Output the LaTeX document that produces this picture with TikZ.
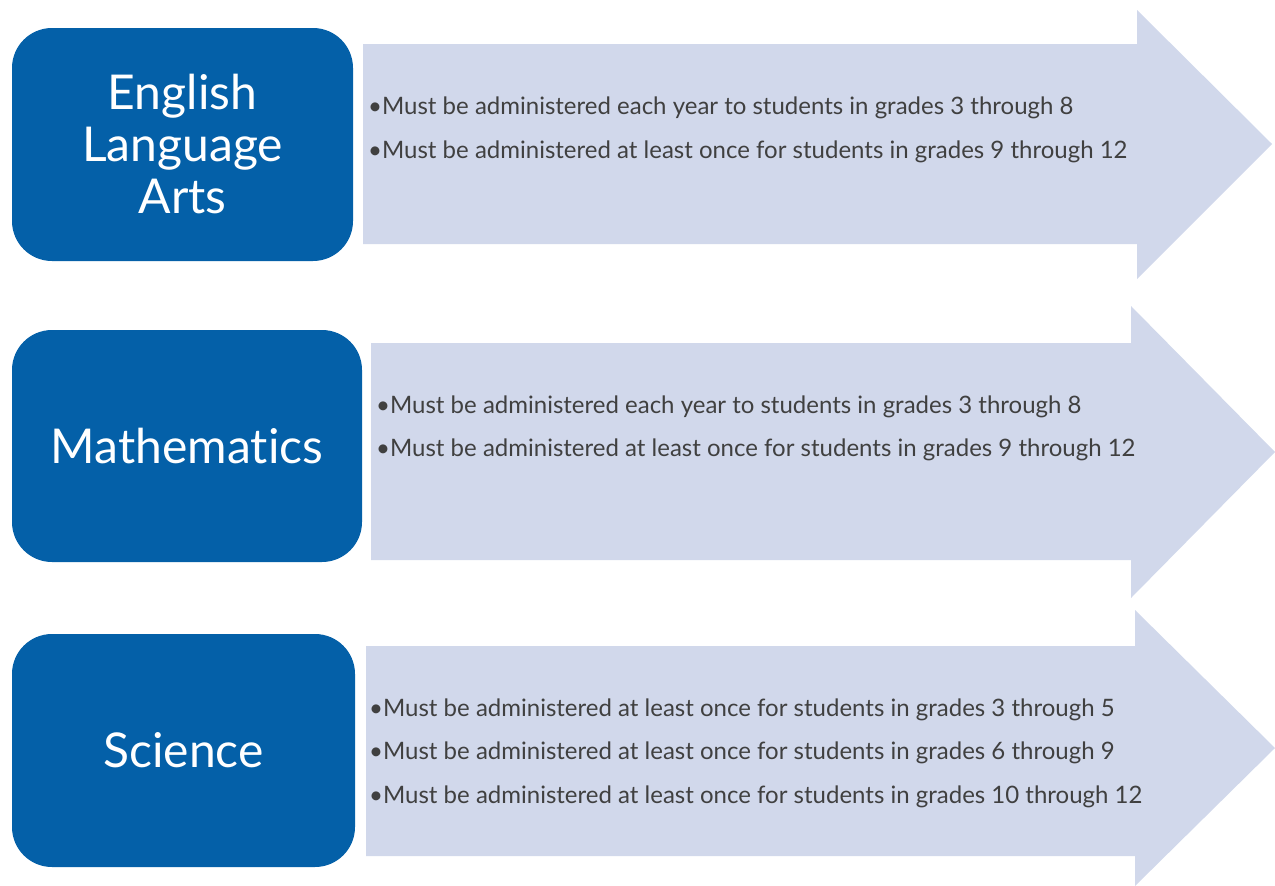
\documentclass[tikz,border=0pt]{standalone}
\usepackage{fontspec}
\setmainfont{Lato}[Ligatures=NoCommon]
\definecolor{boxblue}{RGB}{4,96,168}
\definecolor{arrowfill}{RGB}{209,216,235}
\definecolor{textgray}{RGB}{64,64,64}
\begin{document}
\begin{tikzpicture}[x=1pt, y=-1pt, line join=round,
 subject/.style={fill=boxblue, text=white, rounded corners=40pt, inner sep=0pt, align=center, font=\fontsize{48}{52}\selectfont},
 item/.style={anchor=base west, inner sep=0pt, text=textgray, font=\fontsize{24}{28}\selectfont}]
\useasboundingbox (0,0) rectangle (1275,886); %khung hình
% Vẽ 3 mũi tên nền
\fill[arrowfill] (363,44)--(1137,44)--(1137,10)--(1272,144)--(1137,279)--(1137,244)--(363,244)--cycle;
\fill[arrowfill] (371,343)--(1131,343)--(1131,306)--(1275,452)--(1131,598)--(1131,560)--(371,560)--cycle;
\fill[arrowfill] (366,646)--(1135,646)--(1135,610)--(1275,748)--(1135,886)--(1135,856)--(366,856)--cycle;
% Vẽ 3 khối môn học
\node[subject, minimum width=341pt, minimum height=233pt] (ela) at (182.5,144.5) {English\\Language\\Arts};
\node[subject, minimum width=350pt, minimum height=232pt] (math) at (187,446) {Mathematics};
\node[subject, minimum width=343pt, minimum height=233pt] (sci) at (183.5,750.5) {Science};
% Điền các dòng yêu cầu
\foreach \y/\t [count=\i] in {114/{each year to students in grades 3 through 8},
 158/{at least once for students in grades 9 through 12}}
\node[item] (ela\i) at (368,\y) {\textbullet Must be administered \t};
\foreach \y/\t [count=\i] in {413/{each year to students in grades 3 through 8},
 456/{at least once for students in grades 9 through 12}}
\node[item] (math\i) at (376,\y) {\textbullet Must be administered \t};
\foreach \y/\t [count=\i] in {716/{3 through 5}, 759/{6 through 9}, 803/{10 through 12}}
\node[item] (sci\i) at (369,\y) {\textbullet Must be administered at least once for students in grades \t};
\end{tikzpicture}
\end{document}
